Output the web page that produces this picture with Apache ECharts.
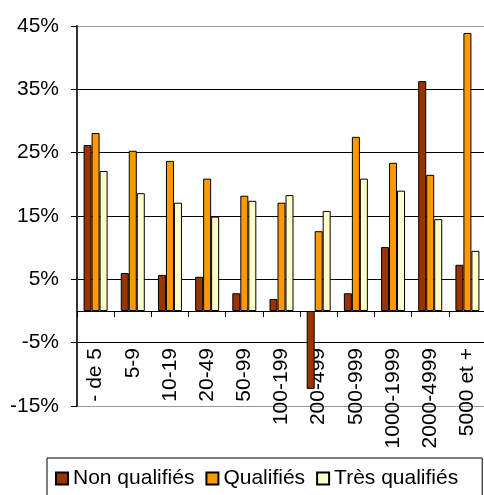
<!DOCTYPE html>
<html>
<head>
<meta charset="utf-8">
<script src="https://cdn.jsdelivr.net/npm/echarts@6/dist/echarts.min.js"></script>
<style>html,body{margin:0;padding:0;background:#fff;}#c{width:484px;height:495px;}</style>
</head>
<body>
<div id="c"></div>
<script>
const categories = ['- de 5', '5-9', '10-19', '20-49', '50-99', '100-199', '200-499', '500-999', '1000-1999', '2000-4999', '5000 et +'];
const nonQualifies = [26.2, 6.0, 5.7, 5.4, 2.8, 1.9, -12.3, 2.8, 10.1, 36.3, 7.3];
const qualifies = [28.1, 25.3, 23.7, 20.9, 18.2, 17.1, 12.6, 27.5, 23.4, 21.5, 43.9];
const tresQualifies = [22.1, 18.6, 17.1, 14.9, 17.4, 18.3, 15.8, 20.9, 19.0, 14.5, 9.5];
const yTicks = [-15, -5, 5, 15, 25, 35, 45];
const seriesNames = ['Non qualifiés', 'Qualifiés', 'Très qualifiés'];

const FONT = '"Liberation Sans", Arial, sans-serif';
const chart = echarts.init(document.getElementById('c'));
const barStyle = (color) => ({ color: color, borderColor: '#000', borderWidth: 1 });
chart.setOption({
  animation: false,
  textStyle: { fontFamily: FONT },
  grid: { left: 77, right: -2, top: 26, bottom: 89, containLabel: false, outerBoundsMode: 'none' },
  legend: {
    left: 47, top: 458,
    data: seriesNames,
    icon: 'rect', itemWidth: 12, itemHeight: 12, itemGap: 11,
    borderColor: '#000', borderWidth: 1, padding: [10, 24, 10, 8],
    textStyle: { fontFamily: FONT, fontSize: 21, color: '#000' }
  },
  xAxis: {
    type: 'category',
    data: categories,
    axisLine: { onZero: true, lineStyle: { color: '#000', width: 1 } },
    axisTick: { show: true, length: 6, lineStyle: { color: '#000' } },
    axisLabel: { rotate: 90, margin: -58, interval: 0, fontFamily: FONT, fontSize: 21, color: '#000' },
    splitLine: { show: false }
  },
  yAxis: {
    type: 'value',
    min: -15, max: 45, interval: 5,
    axisLine: { show: true, lineStyle: { color: '#333', width: 2 } },
    axisTick: { show: true, length: 6, customValues: yTicks, lineStyle: { color: '#000' } },
    axisLabel: { customValues: yTicks, margin: 18, fontFamily: FONT, fontSize: 21, color: '#000', formatter: v => v + '%' },
    splitLine: { show: true, lineStyle: { color: ['#999', '#000', '#000', '#000', '#000', '#000', '#999'], width: 1 } }
  },
  series: [
    { name: seriesNames[0], type: 'bar', data: nonQualifies, barWidth: 8, barGap: '0%', itemStyle: barStyle('#993300') },
    { name: seriesNames[1], type: 'bar', data: qualifies, barWidth: 8, barGap: '0%', itemStyle: barStyle('#FF9900') },
    { name: seriesNames[2], type: 'bar', data: tresQualifies, barWidth: 8, barGap: '0%', itemStyle: barStyle('#FFFFCC') }
  ]
});
</script>
</body>
</html>
